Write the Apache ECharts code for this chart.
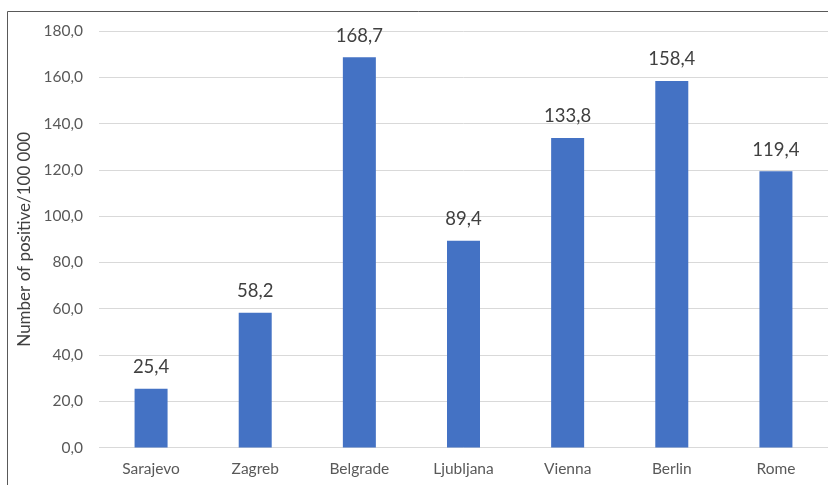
<!DOCTYPE html>
<html>
<head>
<meta charset="utf-8">
<style>
  html, body { margin: 0; padding: 0; background: #fff; }
  #chart { width: 828px; height: 485px; }
</style>
<script src="https://cdn.jsdelivr.net/npm/echarts@6/dist/echarts.min.js"></script>
</head>
<body>
<div id="chart"></div>
<script>
// Positive cases per 100 000 inhabitants, by city
const cities = ['Sarajevo', 'Zagreb', 'Belgrade', 'Ljubljana', 'Vienna', 'Berlin', 'Rome'];
const positivePer100k = [25.4, 58.2, 168.7, 89.4, 133.8, 158.4, 119.4];
const yTicks = [0, 20, 40, 60, 80, 100, 120, 140, 160, 180];

const fmt = v => v.toFixed(1).replace('.', ',');
const font = 'Lato, "Open Sans", sans-serif';

const chart = echarts.init(document.getElementById('chart'), null, { renderer: 'canvas' });
chart.setOption({
  animation: false,
  backgroundColor: '#ffffff',
  textStyle: { fontFamily: font },
  graphic: [{
    type: 'rect',
    shape: { x: 7.5, y: 11.5, width: 900, height: 600 },
    style: { fill: 'none', stroke: '#595959', lineWidth: 1 },
    silent: true
  }],
  grid: { left: 99, right: 0, top: 31, bottom: 37.5 },
  xAxis: {
    type: 'category',
    data: cities,
    axisTick: { show: false },
    axisLine: { show: false },
    axisLabel: { color: '#595959', fontSize: 15.5, margin: 13, fontFamily: font }
  },
  yAxis: {
    type: 'value',
    min: yTicks[0],
    max: yTicks[yTicks.length - 1],
    interval: 20,
    name: 'Number of positive/100 000',
    nameLocation: 'middle',
    nameGap: 60,
    nameTextStyle: { color: '#404040', fontSize: 17, fontFamily: font },
    axisLine: { show: false },
    axisTick: { show: false },
    axisLabel: { color: '#595959', fontSize: 15.5, margin: 16, formatter: v => fmt(v), fontFamily: font },
    splitLine: { lineStyle: { color: '#d9d9d9', width: 1 } }
  },
  series: [{
    type: 'bar',
    data: positivePer100k,
    barWidth: 33,
    itemStyle: { color: '#4472c4' },
    label: {
      show: true,
      position: 'top',
      distance: 12,
      color: '#404040',
      fontSize: 18.5,
      fontFamily: font,
      formatter: p => fmt(p.value)
    }
  }]
});
</script>
</body>
</html>
